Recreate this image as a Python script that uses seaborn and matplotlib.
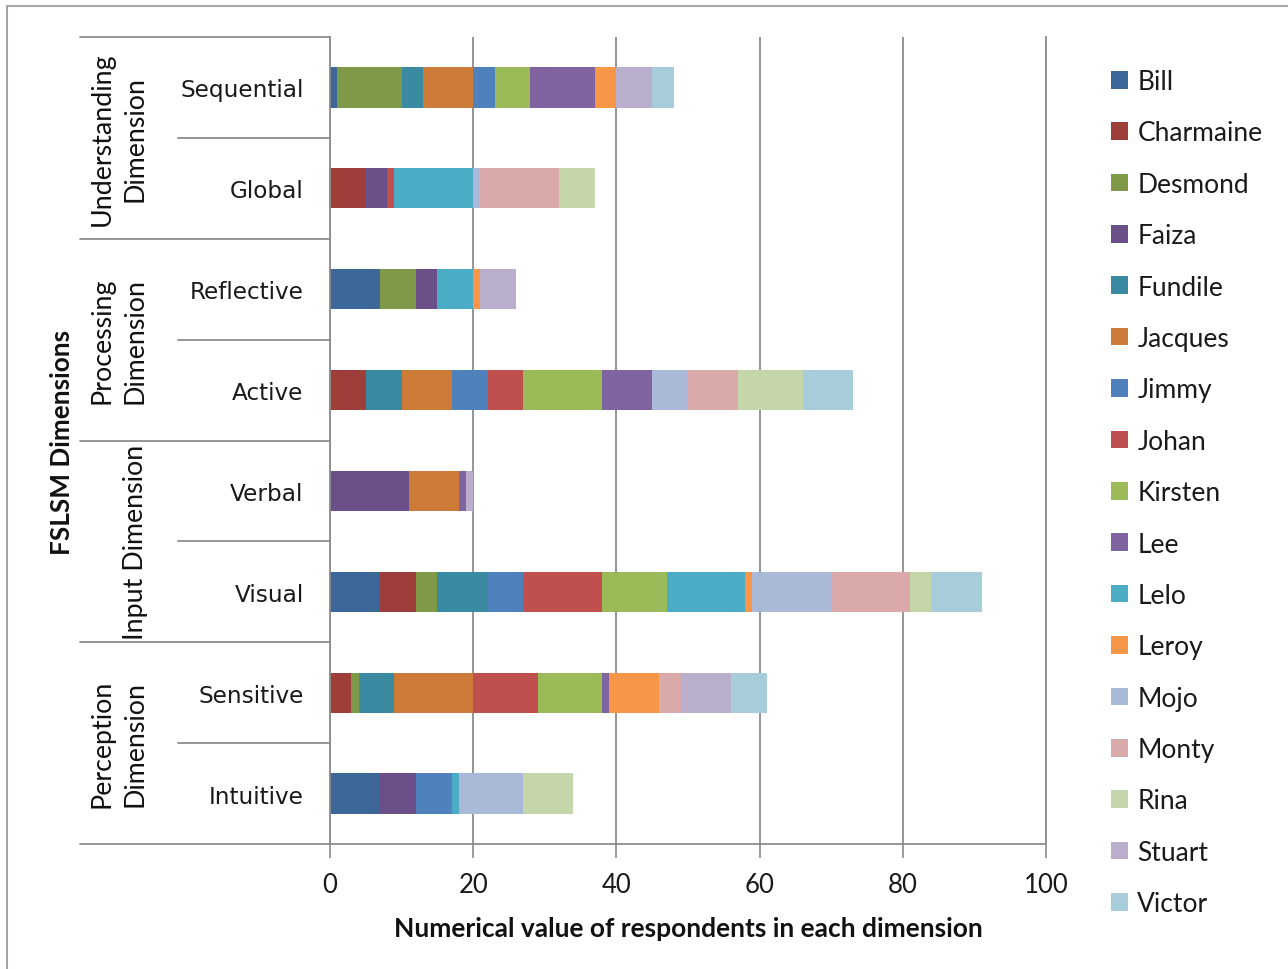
import numpy as np
import pandas as pd
import seaborn as sns
import matplotlib.pyplot as plt
from matplotlib.transforms import blended_transform_factory
from matplotlib.patches import Patch, Rectangle
from matplotlib.lines import Line2D

# Learning-style poles, top to bottom
styles = ["Sequential", "Global", "Reflective", "Active",
          "Verbal", "Visual", "Sensitive", "Intuitive"]

# Respondent counts per pole for each participant (same order as styles)
bill      = [1, 0, 7, 0, 0, 7, 0, 7]
charmaine = [0, 5, 0, 5, 0, 5, 3, 0]
desmond   = [9, 0, 5, 0, 0, 3, 1, 0]
faiza     = [0, 3, 3, 0, 11, 0, 0, 5]
fundile   = [3, 0, 0, 5, 0, 7, 5, 0]
jacques   = [7, 0, 0, 7, 7, 0, 11, 0]
jimmy     = [3, 0, 0, 5, 0, 5, 0, 5]
johan     = [0, 1, 0, 5, 0, 11, 9, 0]
kirsten   = [5, 0, 0, 11, 0, 9, 9, 0]
lee       = [9, 0, 0, 7, 1, 0, 1, 0]
lelo      = [0, 11, 5, 0, 0, 11, 0, 1]
leroy     = [3, 0, 1, 0, 0, 1, 7, 0]
mojo      = [0, 1, 0, 5, 0, 11, 0, 9]
monty     = [0, 11, 0, 7, 0, 11, 3, 0]
rina      = [0, 5, 0, 9, 0, 3, 0, 7]
stuart    = [5, 0, 5, 0, 1, 0, 7, 0]
victor    = [3, 0, 0, 7, 0, 7, 5, 0]

people = ["Bill", "Charmaine", "Desmond", "Faiza", "Fundile", "Jacques",
          "Jimmy", "Johan", "Kirsten", "Lee", "Lelo", "Leroy", "Mojo",
          "Monty", "Rina", "Stuart", "Victor"]
counts = [bill, charmaine, desmond, faiza, fundile, jacques, jimmy, johan,
          kirsten, lee, lelo, leroy, mojo, monty, rina, stuart, victor]
colors = ["#3D6799", "#9E3E3B", "#7E9A48", "#6A4F88", "#3A8BA1", "#CC7B38",
          "#4F81BD", "#C0504D", "#9BBB59", "#8064A2", "#4BACC6", "#F79646",
          "#AAB9D7", "#D9AAA9", "#C4D6AA", "#B9AECB", "#A7CDDB"]

groups = [("Understanding", "Dimension"), ("Processing", "Dimension"),
          ("Input Dimension",), ("Perception", "Dimension")]

x_ticks = [0, 20, 40, 60, 80, 100]

sns.set_theme(style="white")
plt.rcParams["font.family"] = ["Lato", "DejaVu Sans"]

W, H = 1288, 970
fig = plt.figure(figsize=(W / 100, H / 100), dpi=100)
ax = fig.add_axes([330 / W, 1 - 845 / H, (1046 - 330) / W, (845 - 38) / H])

# Running totals across participants for stacking
df = pd.DataFrame({p: c for p, c in zip(people, counts)}, index=styles)
cum = df.cumsum(axis=1)

grid_c = "#8C8C8C"
ax.set_axisbelow(True)
# Draw cumulative totals from the outermost segment inward so each stack layer shows
for name, col in reversed(list(zip(people, colors))):
    sns.barplot(x=cum[name].values, y=styles, orient="h", color=col,
                saturation=1, width=0.4, linewidth=0, ax=ax)

ax.set_xlim(0, 100)
ax.set_ylim(7.5, -0.5)
ax.set_xticks(x_ticks)
ax.set_xticklabels([str(t) for t in x_ticks], fontsize=18.5, color="#1a1a1a")
ax.tick_params(axis="x", length=10, width=1.2, color=grid_c, pad=10, bottom=True)
ax.tick_params(axis="y", length=0, pad=19)
for lab in ax.get_yticklabels():
    lab.set_fontfamily("DejaVu Sans")
    lab.set_fontsize(16.7)
    lab.set_color("#1a1a1a")
ax.grid(axis="x", color=grid_c, lw=1.3)
ax.grid(axis="y", visible=False)
ax.spines["top"].set_visible(False)
for s in ["left", "bottom", "right"]:
    ax.spines[s].set_color(grid_c)
    ax.spines[s].set_linewidth(1.3)

ax.set_xlabel("Numerical value of respondents in each dimension",
              fontsize=19, fontweight="bold", color="#111111", labelpad=14)
ax.set_ylabel("")

# Category separators in the label area
tr = blended_transform_factory(fig.transFigure, ax.transData)
for yb in [-0.5, 1.5, 3.5, 5.5, 7.5]:
    ax.add_line(Line2D([80 / W, 330 / W], [yb, yb], transform=tr,
                       color=grid_c, lw=1.3, clip_on=False))
for yb in [0.5, 2.5, 4.5, 6.5]:
    ax.add_line(Line2D([178 / W, 330 / W], [yb, yb], transform=tr,
                       color=grid_c, lw=1.3, clip_on=False))

# Group labels
narrow = ["Liberation Sans Narrow", "Lato", "DejaVu Sans"]
for gi, lines in enumerate(groups):
    yc = 2 * gi + 0.5
    xs = [102, 135] if len(lines) == 2 else [135]
    for xpix, txt in zip(xs, lines):
        ax.text(xpix / W, yc, txt, transform=tr, rotation=90, ha="center",
                va="center", fontsize=19.3, family=narrow, color="#111111")

fig.text(62 / W, 1 - 442 / H, "FSLSM Dimensions", rotation=90, ha="center",
         va="center", fontsize=18.8, fontweight="bold", family=narrow,
         color="#111111")

# Legend
handles = [Patch(facecolor=c, edgecolor="none", label=p)
           for p, c in zip(people, colors)]
fig.legend(handles=handles, loc="upper left",
           bbox_to_anchor=(1111 / W, 1 - 70 / H), frameon=False,
           fontsize=19, handlelength=0.65, handleheight=0.65,
           handletextpad=0.35, labelspacing=1.0, borderpad=0,
           borderaxespad=0, labelcolor="#1a1a1a")

# Outer frame
fig.patches.append(Rectangle((7 / W, -0.05), 1.1, 1 - 7 / H + 0.05,
                             transform=fig.transFigure, fill=False,
                             edgecolor="#A6A6A6", lw=1.5))

fig.savefig("out.png", dpi=100)
